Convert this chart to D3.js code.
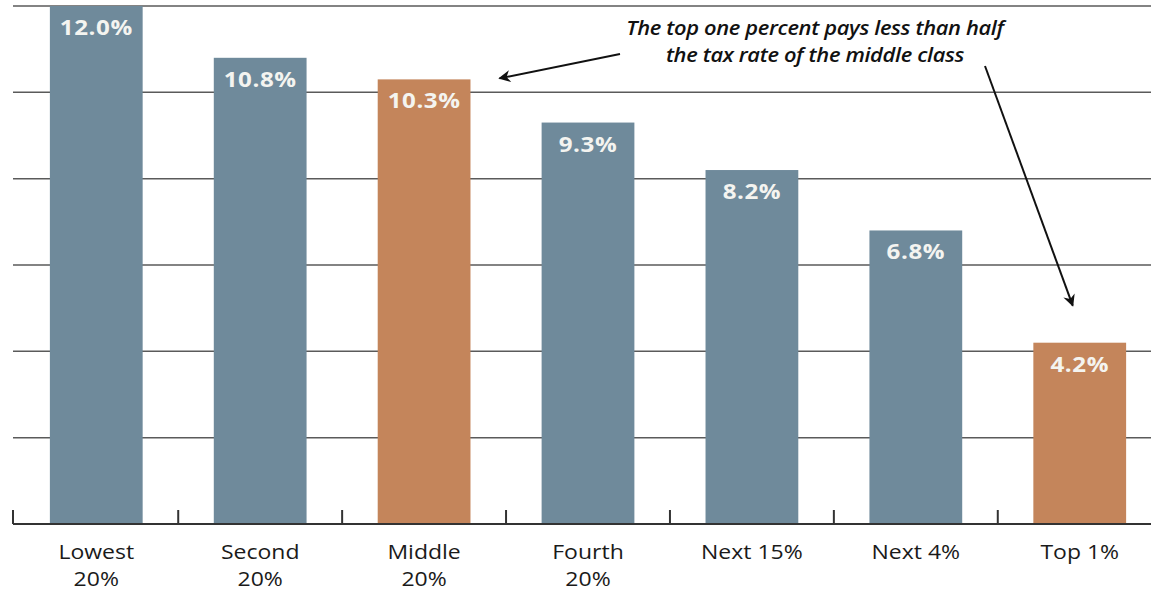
<!DOCTYPE html>
<html>
<head>
<meta charset="utf-8">
<script src="https://cdn.jsdelivr.net/npm/d3@7"></script>
<style>
  body { margin: 0; background: #fff; }
  svg { display: block; }
</style>
</head>
<body>
<script>
var width = 1151;
var height = 592;

// data
var categories = ["Lowest 20%", "Second 20%", "Middle 20%", "Fourth 20%", "Next 15%", "Next 4%", "Top 1%"];
var labelLines = [["Lowest", "20%"], ["Second", "20%"], ["Middle", "20%"], ["Fourth", "20%"], ["Next 15%"], ["Next 4%"], ["Top 1%"]];
var taxRates = [12.0, 10.8, 10.3, 9.3, 8.2, 6.8, 4.2];
var highlighted = ["Middle 20%", "Top 1%"];
var gridValues = [2, 4, 6, 8, 10, 12];
var noteLines = ["The top one percent pays less than half", "the tax rate of the middle class"];

var blue = "#6f8a9b";
var orange = "#c4855b";
var stretch = 1.15; // the original type looks wide, stretch it a bit

var svg = d3.select("body").append("svg")
  .attr("width", width)
  .attr("height", height);

var x = d3.scaleBand()
  .domain(categories)
  .range([13, 1163])
  .paddingInner(0.434)
  .paddingOuter(0.225);

var y = d3.scaleLinear().domain([0, 12]).range([524, 6]);

function place(px, py) {
  return "translate(" + px + "," + py + ") scale(" + stretch + ",1)";
}

// gridlines
svg.append("g").selectAll("line")
  .data(gridValues)
  .enter().append("line")
  .attr("x1", 13)
  .attr("x2", width)
  .attr("y1", function(d) { return y(d); })
  .attr("y2", function(d) { return y(d); })
  .attr("stroke", "#5a5a5a")
  .attr("stroke-width", 1.5);

// bars
svg.append("g").selectAll("rect")
  .data(taxRates)
  .enter().append("rect")
  .attr("x", function(d, i) { return x(categories[i]); })
  .attr("y", function(d) { return y(d); })
  .attr("width", x.bandwidth())
  .attr("height", function(d) { return y(0) - y(d); })
  .attr("fill", function(d, i) { return highlighted.indexOf(categories[i]) >= 0 ? orange : blue; });

// value labels
svg.append("g").selectAll("text")
  .data(taxRates)
  .enter().append("text")
  .attr("transform", function(d, i) { return place(x(categories[i]) + x.bandwidth() / 2, y(d) + 29); })
  .attr("text-anchor", "middle")
  .style("font-family", "'Open Sans', sans-serif")
  .style("font-weight", "bold")
  .style("font-size", "21px")
  .style("letter-spacing", "0.5px")
  .style("fill", "#f4f4f0")
  .text(function(d) { return d.toFixed(1) + "%"; });

// baseline + ticks between bands
svg.append("line")
  .attr("x1", 13).attr("x2", width)
  .attr("y1", y(0)).attr("y2", y(0))
  .attr("stroke", "#333")
  .attr("stroke-width", 2);

var step = x.step();
var tickXs = [13].concat(categories.slice(0, -1).map(function(c) {
  return x(c) + x.bandwidth() + (step - x.bandwidth()) / 2;
}));
svg.append("g").selectAll("line")
  .data(tickXs)
  .enter().append("line")
  .attr("x1", function(d) { return d; })
  .attr("x2", function(d) { return d; })
  .attr("y1", y(0) - 14)
  .attr("y2", y(0))
  .attr("stroke", "#333")
  .attr("stroke-width", 2);

// category labels
var catLabels = svg.append("g").selectAll("text")
  .data(labelLines)
  .enter().append("text")
  .attr("transform", function(d, i) { return place(x(categories[i]) + x.bandwidth() / 2, 559); })
  .attr("text-anchor", "middle")
  .style("font-family", "'Open Sans', sans-serif")
  .style("font-size", "20px")
  .style("fill", "#1a1a1a");

catLabels.selectAll("tspan")
  .data(function(d) { return d; })
  .enter().append("tspan")
  .attr("x", 0)
  .attr("dy", function(d, i) { return i === 0 ? 0 : 27; })
  .text(function(d) { return d; });

// annotation
svg.append("defs").append("marker")
  .attr("id", "head")
  .attr("viewBox", "0 0 10 10")
  .attr("refX", 9).attr("refY", 5)
  .attr("markerWidth", 15).attr("markerHeight", 12)
  .attr("markerUnits", "userSpaceOnUse")
  .attr("orient", "auto")
  .append("path")
  .attr("d", "M0,0 L10,5 L0,10 L3,5 Z")
  .attr("fill", "#111");

svg.append("text")
  .attr("transform", place(815, 35))
  .attr("text-anchor", "middle")
  .style("font-family", "'Open Sans', sans-serif")
  .style("font-style", "italic")
  .style("font-weight", "600")
  .style("font-size", "19px")
  .style("letter-spacing", "-0.3px")
  .style("fill", "#111")
  .selectAll("tspan")
  .data(noteLines)
  .enter().append("tspan")
  .attr("x", 0)
  .attr("dy", function(d, i) { return i === 0 ? 0 : 27; })
  .text(function(d) { return d; });

var midX = x("Middle 20%") + x.bandwidth();
var topX = x("Top 1%") + x.bandwidth() / 2;

svg.append("line")
  .attr("x1", 620).attr("y1", 54)
  .attr("x2", midX + 29).attr("y2", y(10.3) - 1)
  .attr("stroke", "#111").attr("stroke-width", 2)
  .attr("marker-end", "url(#head)");

svg.append("line")
  .attr("x1", 985).attr("y1", 66)
  .attr("x2", topX - 7).attr("y2", y(4.2) - 37)
  .attr("stroke", "#111").attr("stroke-width", 2)
  .attr("marker-end", "url(#head)");
</script>
</body>
</html>
